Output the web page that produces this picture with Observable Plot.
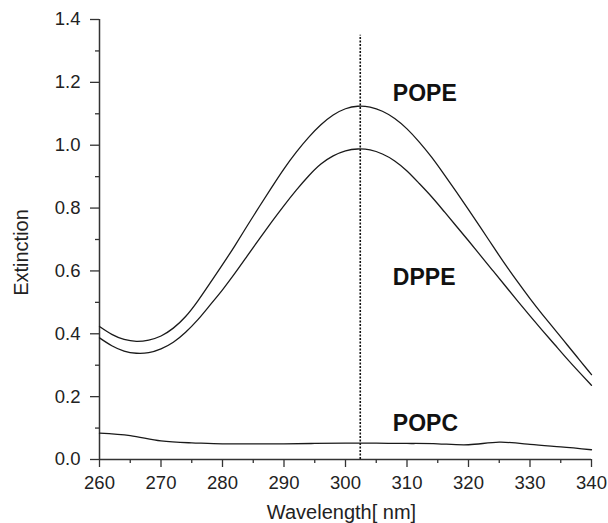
<!DOCTYPE html>
<html>
<head>
<meta charset="utf-8">
<script src="https://cdn.jsdelivr.net/npm/d3@7"></script>
<script src="https://cdn.jsdelivr.net/npm/@observablehq/plot@0.6"></script>
<style>
  html, body { margin: 0; padding: 0; background: #fff; }
</style>
</head>
<body>
<div id="chart"></div>
<script>
// Wavelength grid (nm) for the POPE / DPPE spectra
const wavelengths = [260,262,264,266,268,270,272,274,276,278,280,282,284,286,288,290,292,294,296,298,300,302,304,306,308,310,312,314,316,318,320,322,324,326,328,330,332,334,336,338,340];
const popeValues = [0.423,0.398,0.382,0.376,0.380,0.393,0.418,0.455,0.505,0.562,0.620,0.680,0.743,0.805,0.866,0.925,0.978,1.025,1.065,1.096,1.116,1.124,1.121,1.108,1.085,1.052,1.010,0.962,0.908,0.852,0.795,0.737,0.678,0.620,0.565,0.512,0.462,0.414,0.366,0.318,0.270];
const dppeValues = [0.387,0.362,0.345,0.338,0.340,0.352,0.373,0.405,0.445,0.492,0.540,0.592,0.647,0.702,0.756,0.808,0.857,0.902,0.940,0.966,0.982,0.988,0.985,0.972,0.950,0.918,0.878,0.836,0.790,0.743,0.696,0.648,0.600,0.552,0.504,0.457,0.411,0.366,0.321,0.278,0.236];
// POPC spectrum
const popcWavelengths = [260,265,270,275,280,285,290,295,300,305,310,315,320,325,330,335,340];
const popcValues = [0.084,0.076,0.059,0.053,0.050,0.050,0.050,0.051,0.052,0.052,0.051,0.050,0.047,0.055,0.048,0.040,0.031];

const peakWavelength = [302.4];
const xTicks = [260,270,280,290,300,310,320,330,340];
const xMinorTicks = [265,275,285,295,305,315,325,335];
const yTicks = [0,0.2,0.4,0.6,0.8,1.0,1.2,1.4];
const yMinorTicks = [0.1,0.3,0.5,0.7,0.9,1.1,1.3];
const seriesLabels = ["POPE","DPPE","POPC"];
const labelWavelength = [307.7,307.7,307.7];
const labelExtinction = [1.140,0.554,0.092];

const series = [
  ...wavelengths.map((w,i) => ({series:"POPE", w, v: popeValues[i]})),
  ...wavelengths.map((w,i) => ({series:"DPPE", w, v: dppeValues[i]})),
  ...popcWavelengths.map((w,i) => ({series:"POPC", w, v: popcValues[i]}))
];
const labels = seriesLabels.map((t,i) => ({t, w: labelWavelength[i], v: labelExtinction[i]}));

const axisColor = "#333";
const chart = Plot.plot({
  width: 608,
  height: 523,
  marginLeft: 99,
  marginRight: 17,
  marginTop: 19,
  marginBottom: 64,
  style: {fontFamily: "'Liberation Sans', Arial, Helvetica, sans-serif", color: "#222", background: "#fff"},
  x: {domain: [260, 340]},
  y: {domain: [0, 1.4]},
  marks: [
    Plot.ruleX([260], {y1: 0, y2: 1.4, stroke: axisColor, strokeWidth: 1.5}),
    Plot.ruleY([0], {x1: 260, x2: 340, stroke: axisColor, strokeWidth: 1.5}),
    Plot.axisY(yTicks, {tickSize: 9, tickPadding: 10, tickFormat: d3.format(".1f"), fontSize: 18.5, label: null, stroke: axisColor, strokeWidth: 1.3, fill: "#222"}),
    Plot.axisY(yMinorTicks, {tickSize: 4, text: null, label: null, stroke: axisColor, strokeWidth: 1.3}),
    Plot.axisX(xTicks, {tickSize: 8, tickPadding: 8, tickFormat: d => String(d), fontSize: 18.5, label: null, stroke: axisColor, strokeWidth: 1.3, fill: "#222"}),
    Plot.axisX(xMinorTicks, {tickSize: 4, text: null, label: null, stroke: axisColor, strokeWidth: 1.3}),
    Plot.line(series, {x: "w", y: "v", z: "series", curve: "natural", stroke: "#1a1a1a", strokeWidth: 1.3}),
    Plot.ruleX(peakWavelength, {y1: 0, y2: 1.35, stroke: "#111", strokeWidth: 1.6, strokeDasharray: "2,1.5"}),
    Plot.text(labels, {x: "w", y: "v", text: "t", textAnchor: "start", lineAnchor: "bottom", fontSize: 23, fontWeight: "bold", fill: "#111"}),
    Plot.text(["Extinction"], {frameAnchor: "left", textAnchor: "middle", dx: -78, dy: 13, rotate: -90, fontSize: 20, fill: "#222"}),
    Plot.text(["Wavelength[ nm]"], {frameAnchor: "bottom", textAnchor: "middle", dx: -4, dy: 59, lineAnchor: "bottom", fontSize: 20, fill: "#222"})
  ]
});
document.getElementById("chart").appendChild(chart);
</script>
</body>
</html>
